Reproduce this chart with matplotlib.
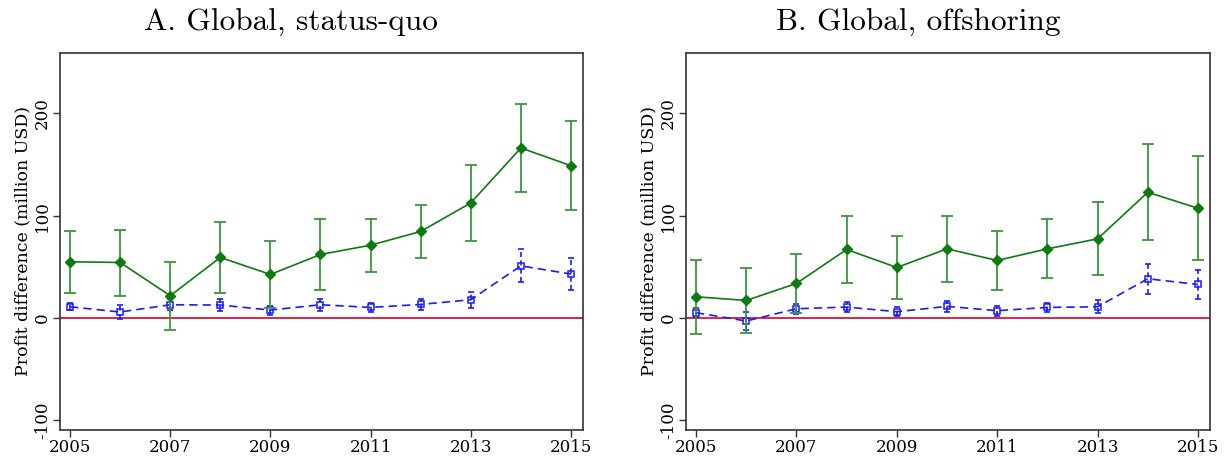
import matplotlib
matplotlib.use("Agg")
import matplotlib.pyplot as plt
import numpy as np

years = [2005, 2006, 2007, 2008, 2009, 2010, 2011, 2012, 2013, 2014, 2015]

# Panel A: Global, status-quo
a_green = [55.0, 54.3, 21.8, 59.2, 42.6, 62.1, 71.2, 84.6, 112.5, 166.2, 148.9]
a_green_hi = [85.0, 86.5, 55.0, 94.3, 75.4, 96.6, 97.2, 110.9, 149.6, 209.4, 192.5]
a_green_lo = [24.4, 22.0, -11.7, 24.0, 9.8, 27.6, 44.9, 58.2, 75.4, 123.3, 105.7]
a_blue = [11.0, 5.9, 13.0, 12.7, 7.8, 13.0, 10.4, 13.3, 17.9, 51.0, 43.0]
a_blue_hi = [14.6, 12.7, 18.5, 18.2, 12.0, 18.5, 15.0, 18.9, 25.7, 67.0, 58.2]
a_blue_lo = [7.5, -1.0, 7.5, 6.8, 2.6, 7.2, 5.5, 8.1, 9.4, 35.1, 27.6]

# Panel B: Global, offshoring
b_green = [20.8, 17.2, 33.8, 67.0, 49.4, 67.6, 56.3, 67.6, 77.4, 122.9, 107.3]
b_green_hi = [57.2, 48.8, 62.4, 100.2, 80.3, 100.2, 85.2, 96.3, 113.5, 169.8, 158.0]
b_green_lo = [-15.6, -14.6, 5.2, 33.8, 18.5, 34.8, 27.3, 39.0, 41.6, 75.8, 56.6]
b_blue = [5.2, -2.9, 9.1, 10.7, 6.2, 11.4, 7.2, 10.4, 11.0, 38.4, 32.8]
b_blue_hi = [9.4, 5.5, 14.0, 15.9, 10.7, 16.6, 11.4, 14.6, 17.2, 53.0, 47.2]
b_blue_lo = [1.0, -11.4, 4.2, 5.5, 1.6, 5.5, 2.3, 5.9, 4.9, 23.7, 18.9]

titles = ["A. Global, status-quo", "B. Global, offshoring"]
ylabel = "Profit difference (million USD)"
xticks = [2005, 2007, 2009, 2011, 2013, 2015]
yticks = [-100, 0, 100, 200]

GREEN = "#0f7a0f"
GREEN_ERR = "#3a963a"
BLUE = "#1a1aff"
RED = "#d8002c"

W, H = 1229, 461
fig = plt.figure(figsize=(W / 100, H / 100), dpi=100)
top_px, bot_px = 53, 430
positions = [[60/W, 1-bot_px/H, (583-60)/W, (bot_px-top_px)/H],
             [686/W, 1-bot_px/H, (1210-686)/W, (bot_px-top_px)/H]]
title_x = [291/W, 918.5/W]

panels = [
    (a_green, a_green_lo, a_green_hi, a_blue, a_blue_lo, a_blue_hi),
    (b_green, b_green_lo, b_green_hi, b_blue, b_blue_lo, b_blue_hi),
]

for i, (g, glo, ghi, b, blo, bhi) in enumerate(panels):
    ax = fig.add_axes(positions[i])
    x = np.array(years)
    g = np.array(g); b = np.array(b)
    gerr = [g - np.array(glo), np.array(ghi) - g]
    berr = [b - np.array(blo), np.array(bhi) - b]

    ax.axhline(0, color=RED, lw=1.2, zorder=1)

    eb = ax.errorbar(x, b, yerr=berr, fmt='none', ecolor=BLUE, elinewidth=1.2,
                     capsize=2.5, capthick=1.2, zorder=2)
    for lc in eb[2]:
        lc.set_linestyle((0, (3, 2)))
    ax.plot(x, b, color=BLUE, lw=1.2, ls=(0, (5, 3)), marker='s', ms=5,
            mfc='none', mec=BLUE, mew=1.1, zorder=3)

    ax.errorbar(x, g, yerr=gerr, fmt='none', ecolor=GREEN_ERR, elinewidth=1.3,
                capsize=4, capthick=1.3, zorder=4)
    ax.plot(x, g, color=GREEN, lw=1.2, marker='D', ms=5, mfc=GREEN, mec=GREEN,
            zorder=5)

    ax.set_xlim(2004.8, 2015.24)
    ax.set_ylim(-109.4, 259)
    ax.set_xticks(xticks)
    ax.set_yticks(yticks)
    ax.set_xticklabels([str(t) for t in xticks], family="DejaVu Serif", fontsize=12)
    ax.set_yticklabels([str(t) for t in yticks], family="DejaVu Serif", fontsize=12,
                       rotation=90, va='center')
    ax.tick_params(axis='both', direction='out', length=5, width=1, color='#333333', pad=1.5)
    ax.set_ylabel(ylabel, family="DejaVu Serif", fontsize=12.5, labelpad=2)
    for s in ax.spines.values():
        s.set_linewidth(1.2)
        s.set_color('#333333')
    fig.text(title_x[i], 1 - 31/H, titles[i],
             family="cmr10", fontsize=22.5, ha='center', va='baseline')

fig.savefig("out.png", dpi=100)
